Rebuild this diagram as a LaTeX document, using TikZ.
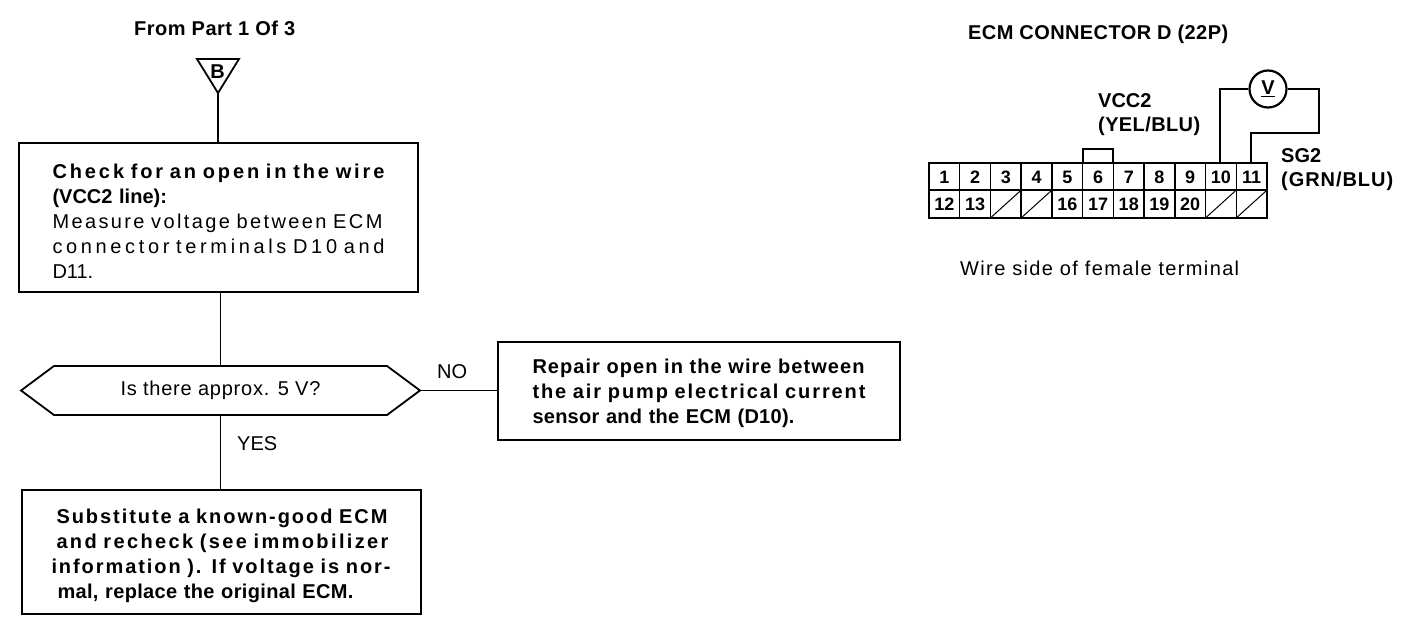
\documentclass[tikz,border=0pt]{standalone}
\usepackage{fontspec}
\setmainfont{Liberation Sans}
% set text to a given width by letter spacing, measuring the effect of a trial value
\newcommand{\fitL}[2]{{\setbox0=\hbox{#2}\setbox2=\hbox{\addfontfeature{LetterSpace=10}#2}%
  \pgfmathsetmacro{\lsval}{10*(#1-\the\wd0)/(\the\wd2-\the\wd0)}%
  \addfontfeature{LetterSpace=\lsval}#2}}
\tikzset{
  x=1pt,y=-1pt,
  every node/.style={font=\fontsize{20}{25}\selectfont},
  boxa/.style={draw,line width=1.8pt,inner sep=0pt,align=left},
  hidden/.style={inner sep=0pt,outer sep=0pt},
  link/.style={line width=1.8pt},
  wire/.style={line width=2.2pt},
  body/.style={inner sep=0pt,anchor=base west},
  bold/.style={inner sep=0pt,anchor=base west,font=\fontsize{20}{25}\selectfont\bfseries},
  num/.style={inner sep=0pt,font=\fontsize{18}{20}\selectfont\bfseries},
}
\begin{document}
\begin{tikzpicture}
\useasboundingbox (0,0) rectangle (1408,636);
% titles
\node[bold] (title) at (134,36) {\fitL{161}{From Part 1 Of 3}};
\node[hidden,minimum width=42pt,minimum height=34pt] (tri) at (218,76) {};
\draw[link] (tri.north west) -- (tri.north east) -- (tri.south) -- cycle;
\node[num,font=\fontsize{20}{20}\selectfont\bfseries] (trilabel) at (217.5,72) {B};
% box 1
\node[boxa,minimum width=399pt,minimum height=149pt,text width=332pt] (check) at (218.5,217.5) {%
  \rule{0pt}{23pt}{\bfseries\fitL{332}{Check for an open in the wire}}\\
  {\bfseries (VCC2 line):}\\
  \fitL{330}{Measure voltage between ECM}\\
  \fitL{332}{connector terminals D10 and}\\
  D11.};
% decision
\node[hidden,minimum width=399pt,minimum height=49pt] (ask) at (220.5,390.5) {\raisebox{-3pt}{\fitL{200}{Is there approx. 5 V?}}};
\draw[link] (ask.west) -- ([xshift=33pt]ask.north west) -- ([xshift=-33pt]ask.north east) -- (ask.east)
  -- ([xshift=-33pt]ask.south east) -- ([xshift=33pt]ask.south west) -- cycle;
% repair
\node[boxa,minimum width=402pt,minimum height=98pt,text width=333pt] (repair) at (699,391) {%
  \rule{0pt}{20pt}\bfseries\fitL{332}{Repair open in the wire between}\\
  \fitL{333}{the air pump electrical current}\\
  \fitL{262}{sensor and the ECM (D10).}};
% substitute
\node[boxa,minimum width=399pt,minimum height=124pt,text width=340pt] (subst) at (221.5,552) {%
  \rule{0pt}{23pt}\bfseries\hspace*{5pt}\fitL{331}{Substitute a known-good ECM}\\
  \hspace*{5pt}\fitL{332}{and recheck (see immobilizer}\\
  \fitL{339}{information ). If voltage is nor-}\\
  \hspace*{6pt}\fitL{296}{mal, replace the original ECM.}};
% connectors
\draw[link] (tri.south) -- (tri.south |- check.north);
\draw[link] (ask.north |- check.south) -- (ask.north);
\draw[link] (ask.south) -- (ask.south |- subst.north);
\draw[link] (ask.east) -- (ask.east -| repair.west);
\node[body] (no) at (437,378) {NO};
\node[body] (yes) at (237,450) {YES};
% right part
\node[bold] (ecm) at (968,40) {\fitL{260}{ECM CONNECTOR D (22P)}};
\node[bold] (vcc) at (1098,108) {VCC2};
\node[bold] (yel) at (1098,132) {\fitL{102}{(YEL/BLU)}};
\node[bold] (sg) at (1281,163) {SG2};
\node[bold] (grn) at (1281,187) {\fitL{112}{(GRN/BLU)}};
\node[body] (side) at (960,276) {\fitL{279}{Wire side of female terminal}};
% connector body
\draw[wire,line width=2.6pt] (929,163) rectangle (1267,218);
\draw[wire] (929,190) -- (1267,190);
\foreach \k in {1,...,10} \draw[wire,line width=1.5pt] ({929+30.73*\k},163) -- ({929+30.73*\k},218);
\draw[wire] (1082.6,163) -- (1082.6,149) -- (1113.3,149) -- (1113.3,163);
\foreach \k/\t in {0/1,1/2,2/3,3/4,4/5,5/6,6/7,7/8,8/9,9/10,10/11}
  \node[num] (a\t) at ({929+30.73*(\k+.5)},177) {\t};
\foreach \k/\t in {0/12,1/13,4/16,5/17,6/18,7/19,8/20}
  \node[num] (b\t) at ({929+30.73*(\k+.5)},204) {\t};
\foreach \k in {2,3,9,10}
  \draw[line width=1pt] ({929+30.73*\k+1},217) -- ({929+30.73*(\k+1)-1},191);
% voltmeter
\node[draw,circle,line width=2.2pt,minimum size=37pt,inner sep=0pt,font=\fontsize{20}{20}\selectfont\bfseries] (vm) at (1268,89) {\underline{V}};
\coordinate (t10) at (1220,163);
\coordinate (t11) at (1251,163);
\draw[wire] (t10) |- (vm.west);
\draw[wire] (vm.east) -- (1319,89) -- (1319,133) -| (t11);
\end{tikzpicture}
\end{document}
